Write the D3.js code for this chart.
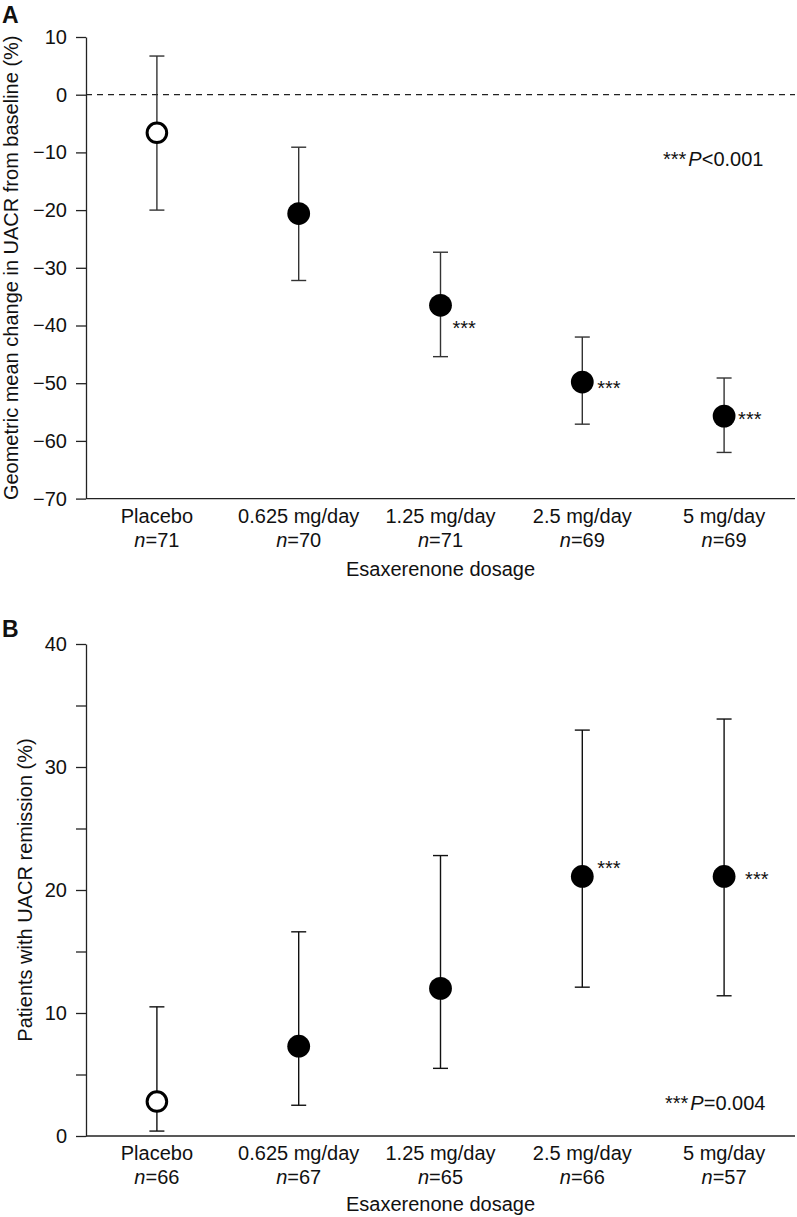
<!DOCTYPE html>
<html>
<head>
<meta charset="utf-8">
<script src="https://cdn.jsdelivr.net/npm/d3@7"></script>
<style>
  html, body { margin: 0; padding: 0; background: #fff; }
  svg { display: block; }
  text { font-family: "Liberation Sans", Arial, Helvetica, sans-serif; fill: #111; }
</style>
</head>
<body>
<svg id="chart" width="797" height="1217"></svg>
<script>
// ---------------- data ----------------
const categories = ["Placebo", "0.625 mg/day", "1.25 mg/day", "2.5 mg/day", "5 mg/day"];
const placeboFlag = [true, false, false, false, false];

// Panel A: geometric mean change in UACR (%)
const nA = [71, 70, 71, 69, 69];
const meanA = [-6.6, -20.6, -36.5, -49.8, -55.7];
const upperA = [6.7, -9.1, -27.3, -42.0, -49.1];
const lowerA = [-20.0, -32.2, -45.4, -57.1, -62.0];
const sigA = [false, false, true, true, true];
const ticksA = [10, 0, -10, -20, -30, -40, -50, -60, -70];

// Panel B: patients with UACR remission (%)
const nB = [66, 67, 65, 66, 57];
const pctB = [2.8, 7.3, 12.0, 21.1, 21.1];
const upperB = [10.5, 16.6, 22.8, 33.0, 33.9];
const lowerB = [0.4, 2.5, 5.5, 12.1, 11.4];
const sigB = [false, false, false, true, true];
const ticksB = [0, 5, 10, 15, 20, 25, 30, 35, 40];
const tickLabelsB = [0, 10, 20, 30, 40];

// ---------------- layout ----------------
const svg = d3.select("#chart");
const FONT = 20;
const xLeft = 86, xRight = 795;

function drawPanel(cfg) {
  const g = svg.append("g");
  const x = d3.scalePoint().domain(categories).range([xLeft, xRight]).padding(0.5);
  const y = d3.scaleLinear().domain(cfg.domain).range(cfg.range);

  // panel letter
  g.append("text").attr("x", 2).attr("y", cfg.letterY)
    .style("font-size", "23px").style("font-weight", "bold").text(cfg.letter);

  // y axis
  const yAxis = d3.axisLeft(y).tickValues(cfg.ticks).tickSize(10).tickPadding(9)
    .tickSizeOuter(0)
    .tickFormat(d => cfg.tickLabels.includes(d) ? d3.format("")(d).replace("-", "\u2212") : "");
  const ya = g.append("g").attr("transform", `translate(${xLeft},0)`).call(yAxis);
  ya.selectAll("path, line").attr("stroke", "#222").attr("stroke-width", 1.3);
  ya.selectAll("text").style("font-size", FONT + "px")
    .style("font-family", "'Liberation Sans', Arial, sans-serif").attr("fill", "#111");

  // x axis line
  const y0 = cfg.range[0];
  g.append("line").attr("x1", xLeft).attr("x2", xRight).attr("y1", y0).attr("y2", y0)
    .attr("stroke", "#222").attr("stroke-width", 1.3);

  // reference line
  if (cfg.refLine !== undefined) {
    g.append("line").attr("x1", xLeft).attr("x2", xRight)
      .attr("y1", y(cfg.refLine)).attr("y2", y(cfg.refLine))
      .attr("stroke", "#222").attr("stroke-width", 1.2).attr("stroke-dasharray", "6,5");
  }

  // category labels
  const lab = g.selectAll(".cat").data(categories).enter().append("g");
  lab.append("text").attr("x", d => x(d)).attr("y", y0 + 24)
    .attr("text-anchor", "middle").style("font-size", FONT + "px").text(d => d);
  const nt = lab.append("text").attr("x", d => x(d)).attr("y", y0 + 48)
    .attr("text-anchor", "middle").style("font-size", FONT + "px");
  nt.append("tspan").style("font-style", "italic").text("n");
  nt.append("tspan").text((d, i) => "=" + cfg.n[i]);

  // x title
  g.append("text").attr("x", (xLeft + xRight) / 2).attr("y", y0 + cfg.xTitleDy)
    .attr("text-anchor", "middle").style("font-size", FONT + "px").text("Esaxerenone dosage");

  // y title
  const ymid = (cfg.range[0] + cfg.range[1]) / 2;
  g.append("text").attr("transform", `translate(${cfg.yTitleX},${ymid}) rotate(-90)`)
    .attr("text-anchor", "middle").style("font-size", FONT + "px").text(cfg.yTitle);

  // error bars
  const cap = 7.5;
  const eb = g.selectAll(".eb").data(categories).enter().append("g");
  eb.append("line").attr("x1", d => x(d)).attr("x2", d => x(d))
    .attr("y1", (d, i) => y(cfg.upper[i])).attr("y2", (d, i) => y(cfg.lower[i]))
    .attr("stroke", cfg.barColor).attr("stroke-width", 1.4);
  eb.append("line").attr("x1", d => x(d) - cap).attr("x2", d => x(d) + cap)
    .attr("y1", (d, i) => y(cfg.upper[i])).attr("y2", (d, i) => y(cfg.upper[i]))
    .attr("stroke", cfg.barColor).attr("stroke-width", 1.4);
  eb.append("line").attr("x1", d => x(d) - cap).attr("x2", d => x(d) + cap)
    .attr("y1", (d, i) => y(cfg.lower[i])).attr("y2", (d, i) => y(cfg.lower[i]))
    .attr("stroke", cfg.barColor).attr("stroke-width", 1.4);

  // points
  g.selectAll(".pt").data(categories).enter().append("circle")
    .attr("cx", d => x(d)).attr("cy", (d, i) => y(cfg.values[i]))
    .attr("r", (d, i) => placeboFlag[i] ? 9.8 : 11.4)
    .attr("fill", (d, i) => placeboFlag[i] ? "#fff" : "#000")
    .attr("stroke", "#000")
    .attr("stroke-width", (d, i) => placeboFlag[i] ? 3 : 0);

  // significance stars
  categories.forEach((c, i) => {
    if (!cfg.sig[i]) return;
    const off = cfg.starOffset[i];
    g.append("text").attr("x", x(c) + off[0]).attr("y", y(cfg.values[i]) + off[1])
      .style("font-size", FONT + "px").text("***");
  });

  // p-value note
  const pt = g.append("text").attr("x", cfg.pX).attr("y", cfg.pY).style("font-size", FONT + "px");
  pt.append("tspan").text("***");
  pt.append("tspan").attr("dx", 2).style("font-style", "italic").text("P");
  pt.append("tspan").text(cfg.pText);
}

drawPanel({
  letter: "A", letterY: 23,
  domain: [-70, 10], range: [498.6, 37],
  ticks: ticksA, tickLabels: ticksA,
  n: nA, values: meanA, upper: upperA, lower: lowerA, sig: sigA,
  refLine: 0, barColor: "#333",
  xTitleDy: 77, yTitleX: 17.5,
  yTitle: "Geometric mean change in UACR from baseline (%)",
  starOffset: [null, null, [12, 29.5], [15, 12.8], [14, 9.5]],
  pX: 663, pY: 166, pText: "<0.001"
});

drawPanel({
  letter: "B", letterY: 637,
  domain: [0, 40], range: [1136, 644],
  ticks: ticksB, tickLabels: tickLabelsB,
  n: nB, values: pctB, upper: upperB, lower: lowerB, sig: sigB,
  barColor: "#111",
  xTitleDy: 75, yTitleX: 31.5,
  yTitle: "Patients with UACR remission (%)",
  starOffset: [null, null, null, [15, -1.2], [21, 9.8]],
  pX: 665, pY: 1110, pText: "=0.004"
});
</script>
</body>
</html>
